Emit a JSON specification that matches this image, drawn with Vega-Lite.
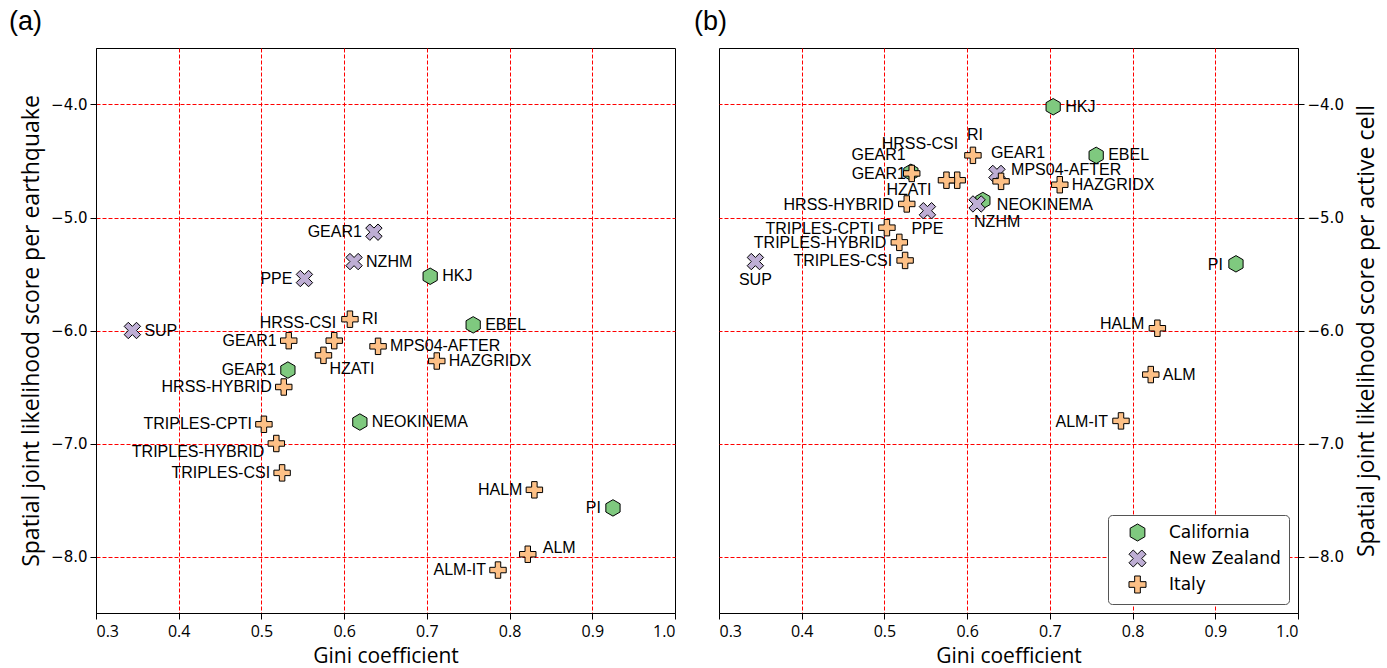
{
  "$schema": "https://vega.github.io/schema/vega-lite/v6.json",
  "padding": {"left": 8, "top": 7, "right": 5, "bottom": 0},
  "spacing": 44,
  "bounds": "flush",
  "datasets": {
    "scores": [
      {"model": "GEAR1", "region": "California", "gini": 0.532, "eq": -6.35, "cell": -4.60},
      {"model": "HKJ", "region": "California", "gini": 0.704, "eq": -5.52, "cell": -4.02},
      {"model": "EBEL", "region": "California", "gini": 0.756, "eq": -5.95, "cell": -4.45},
      {"model": "NEOKINEMA", "region": "California", "gini": 0.619, "eq": -6.81, "cell": -4.85},
      {"model": "PI", "region": "California", "gini": 0.925, "eq": -7.57, "cell": -5.41},
      {"model": "GEAR1", "region": "New Zealand", "gini": 0.636, "eq": -5.13, "cell": -4.61},
      {"model": "NZHM", "region": "New Zealand", "gini": 0.612, "eq": -5.39, "cell": -4.88},
      {"model": "PPE", "region": "New Zealand", "gini": 0.552, "eq": -5.54, "cell": -4.94},
      {"model": "SUP", "region": "New Zealand", "gini": 0.344, "eq": -6.00, "cell": -5.39},
      {"model": "GEAR1", "region": "Italy", "gini": 0.533, "eq": -6.09, "cell": -4.61},
      {"model": "HRSS-CSI", "region": "Italy", "gini": 0.588, "eq": -6.09, "cell": -4.67},
      {"model": "RI", "region": "Italy", "gini": 0.607, "eq": -5.90, "cell": -4.45},
      {"model": "HZATI", "region": "Italy", "gini": 0.575, "eq": -6.22, "cell": -4.67},
      {"model": "MPS04-AFTER", "region": "Italy", "gini": 0.641, "eq": -6.14, "cell": -4.68},
      {"model": "HAZGRIDX", "region": "Italy", "gini": 0.712, "eq": -6.27, "cell": -4.71},
      {"model": "HRSS-HYBRID", "region": "Italy", "gini": 0.527, "eq": -6.50, "cell": -4.88},
      {"model": "TRIPLES-CPTI", "region": "Italy", "gini": 0.503, "eq": -6.83, "cell": -5.09},
      {"model": "TRIPLES-HYBRID", "region": "Italy", "gini": 0.518, "eq": -7.00, "cell": -5.22},
      {"model": "TRIPLES-CSI", "region": "Italy", "gini": 0.525, "eq": -7.26, "cell": -5.38},
      {"model": "HALM", "region": "Italy", "gini": 0.830, "eq": -7.41, "cell": -5.98},
      {"model": "ALM", "region": "Italy", "gini": 0.822, "eq": -7.98, "cell": -6.39},
      {"model": "ALM-IT", "region": "Italy", "gini": 0.786, "eq": -8.12, "cell": -6.80}
    ]
  },
  "data": {"name": "scores"},
  "resolve": {"legend": {"color": "independent", "shape": "independent"}},
  "hconcat": [
    {
      "width": 579,
      "height": 565,
      "title": {"text": "(a)", "anchor": "start", "frame": "group", "dx": -87, "offset": -15, "baseline": "bottom", "fontSize": 27, "font": "Liberation Sans", "fontWeight": "normal", "color": "black"},
      "encoding": {
        "x": {"field": "gini", "type": "quantitative", "title": "Gini coefficient",
              "scale": {"domain": [0.3, 1.0], "nice": false, "zero": false},
              "axis": {"values": [0.3, 0.4, 0.5, 0.6, 0.7, 0.8, 0.9, 1.0], "format": ".1f",
                       "gridOpacity": {"condition": {"test": "datum.value < 0.301 || datum.value > 0.999", "value": 0}, "value": 1}}},
        "y": {"field": "eq", "type": "quantitative", "title": "Spatial joint likelihood score per earthquake",
              "scale": {"domain": [-8.5, -3.5], "nice": false, "zero": false},
              "axis": {"values": [-8, -7, -6, -5, -4], "format": ".1f", "orient": "left", "titlePadding": 7}}
      },
      "layer": [
        {
          "mark": {"type": "point", "filled": true, "stroke": "black", "strokeWidth": 1, "opacity": 1, "size": 270},
          "encoding": {
            "color": {"field": "region", "type": "nominal", "legend": null,
                      "scale": {"domain": ["California", "New Zealand", "Italy"], "range": ["#7fc97f", "#beaed4", "#fdc086"]}},
            "shape": {"field": "region", "type": "nominal", "legend": null,
                      "scale": {"domain": ["California", "New Zealand", "Italy"],
                                "range": ["M0,-1L0.866,-0.5L0.866,0.5L0,1L-0.866,0.5L-0.866,-0.5Z",
                                          "M0.5,-1L1,-0.5L0.5,0L1,0.5L0.5,1L0,0.5L-0.5,1L-1,0.5L-0.5,0L-1,-0.5L-0.5,-1L0,-0.5Z",
                                          "M-0.333,-1H0.333V-0.333H1V0.333H0.333V1H-0.333V0.333H-1V-0.333H-0.333Z"]}}
          }
        },
        {
          "transform": [{"filter": "indexof(['California:HKJ','California:EBEL','California:NEOKINEMA','New Zealand:NZHM','New Zealand:SUP','Italy:RI','Italy:MPS04-AFTER','Italy:HAZGRIDX'], datum.region + ':' + datum.model) >= 0"}],
          "mark": {"type": "text", "align": "left", "dx": 12, "dy": 0},
          "encoding": {"text": {"field": "model"}}
        },
        {
          "transform": [{"filter": "indexof(['California:GEAR1','California:PI','New Zealand:GEAR1','New Zealand:PPE','Italy:GEAR1','Italy:HRSS-HYBRID','Italy:TRIPLES-CPTI','Italy:TRIPLES-CSI','Italy:HALM','Italy:ALM-IT'], datum.region + ':' + datum.model) >= 0"}],
          "mark": {"type": "text", "align": "right", "dx": -12, "dy": 0},
          "encoding": {"text": {"field": "model"}}
        },
        {
          "transform": [{"filter": "datum.region == 'Italy' && datum.model == 'HRSS-CSI'"}],
          "mark": {"type": "text", "align": "right", "dx": 2, "dy": -18},
          "encoding": {"text": {"field": "model"}}
        },
        {
          "transform": [{"filter": "datum.region == 'Italy' && datum.model == 'HZATI'"}],
          "mark": {"type": "text", "align": "left", "dx": 6, "dy": 14},
          "encoding": {"text": {"field": "model"}}
        },
        {
          "transform": [{"filter": "datum.region == 'Italy' && datum.model == 'TRIPLES-HYBRID'"}],
          "mark": {"type": "text", "align": "right", "dx": -12, "dy": 8},
          "encoding": {"text": {"field": "model"}}
        },
        {
          "transform": [{"filter": "datum.region == 'Italy' && datum.model == 'ALM'"}],
          "mark": {"type": "text", "align": "left", "dx": 15, "dy": -6},
          "encoding": {"text": {"field": "model"}}
        }
      ]
    },
    {
      "width": 579,
      "height": 565,
      "title": {"text": "(b)", "anchor": "start", "frame": "group", "dx": -25, "offset": -15, "baseline": "bottom", "fontSize": 27, "font": "Liberation Sans", "fontWeight": "normal", "color": "black"},
      "encoding": {
        "x": {"field": "gini", "type": "quantitative", "title": "Gini coefficient",
              "scale": {"domain": [0.3, 1.0], "nice": false, "zero": false},
              "axis": {"values": [0.3, 0.4, 0.5, 0.6, 0.7, 0.8, 0.9, 1.0], "format": ".1f",
                       "gridOpacity": {"condition": {"test": "datum.value < 0.301 || datum.value > 0.999", "value": 0}, "value": 1}}},
        "y": {"field": "cell", "type": "quantitative", "title": "Spatial joint likelihood score per active cell",
              "scale": {"domain": [-8.5, -3.5], "nice": false, "zero": false},
              "axis": {"values": [-8, -7, -6, -5, -4], "format": ".1f", "orient": "right", "titleAngle": 270, "titleBaseline": "top", "titlePadding": 12}}
      },
      "layer": [
        {
          "mark": {"type": "point", "filled": true, "stroke": "black", "strokeWidth": 1, "opacity": 1, "size": 270},
          "encoding": {
            "color": {"field": "region", "type": "nominal",
                      "scale": {"domain": ["California", "New Zealand", "Italy"], "range": ["#7fc97f", "#beaed4", "#fdc086"]},
                      "legend": {"title": null, "orient": "bottom-right", "offset": 9, "padding": 8, "rowPadding": 3,
                                 "strokeColor": "#555555", "fillColor": "white", "cornerRadius": 4,
                                 "symbolSize": 290, "symbolStrokeColor": "black", "symbolStrokeWidth": 1, "symbolOpacity": 1,
                                 "symbolOffset": 12, "labelOffset": 22,
                                 "labelFont": "DejaVu Sans", "labelFontSize": 17, "labelColor": "black",
                                 "encode": {"symbols": {"update": {"stroke": {"value": "black"}, "strokeWidth": {"value": 1}, "opacity": {"value": 1}}}}}},
            "shape": {"field": "region", "type": "nominal",
                      "scale": {"domain": ["California", "New Zealand", "Italy"],
                                "range": ["M0,-1L0.866,-0.5L0.866,0.5L0,1L-0.866,0.5L-0.866,-0.5Z",
                                          "M0.5,-1L1,-0.5L0.5,0L1,0.5L0.5,1L0,0.5L-0.5,1L-1,0.5L-0.5,0L-1,-0.5L-0.5,-1L0,-0.5Z",
                                          "M-0.333,-1H0.333V-0.333H1V0.333H0.333V1H-0.333V0.333H-1V-0.333H-0.333Z"]},
                      "legend": {"title": null, "orient": "bottom-right", "offset": 9, "padding": 8, "rowPadding": 3,
                                 "strokeColor": "#555555", "fillColor": "white", "cornerRadius": 4,
                                 "symbolSize": 290, "symbolStrokeColor": "black", "symbolStrokeWidth": 1, "symbolOpacity": 1,
                                 "symbolOffset": 12, "labelOffset": 22,
                                 "labelFont": "DejaVu Sans", "labelFontSize": 17, "labelColor": "black",
                                 "encode": {"symbols": {"update": {"stroke": {"value": "black"}, "strokeWidth": {"value": 1}, "opacity": {"value": 1}}}}}}
          }
        },
        {
          "transform": [{"filter": "indexof(['California:HKJ','California:EBEL','Italy:HAZGRIDX','Italy:ALM'], datum.region + ':' + datum.model) >= 0"}],
          "mark": {"type": "text", "align": "left", "dx": 12, "dy": 0},
          "encoding": {"text": {"field": "model"}}
        },
        {
          "transform": [{"filter": "indexof(['California:PI','Italy:HRSS-HYBRID','Italy:TRIPLES-CPTI','Italy:TRIPLES-HYBRID','Italy:TRIPLES-CSI','Italy:ALM-IT'], datum.region + ':' + datum.model) >= 0"}],
          "mark": {"type": "text", "align": "right", "dx": -13, "dy": 1},
          "encoding": {"text": {"field": "model"}}
        },
        {
          "transform": [{"filter": "datum.region == 'Italy' && datum.model == 'HALM'"}],
          "mark": {"type": "text", "align": "right", "dx": -13, "dy": -4},
          "encoding": {"text": {"field": "model"}}
        },
        {
          "transform": [{"filter": "datum.region == 'Italy' && datum.model == 'HRSS-CSI'"}],
          "mark": {"type": "text", "align": "right", "dx": 1, "dy": -36},
          "encoding": {"text": {"field": "model"}}
        },
        {
          "transform": [{"filter": "(datum.region == 'Italy' && datum.model == 'RI') || (datum.region == 'New Zealand' && datum.model == 'GEAR1')"}],
          "mark": {"type": "text", "align": "left", "dx": -6, "dy": -20},
          "encoding": {"text": {"field": "model"}}
        },
        {
          "transform": [{"filter": "datum.region == 'Italy' && datum.model == 'GEAR1'"}],
          "mark": {"type": "text", "align": "right", "dx": -6, "dy": -18},
          "encoding": {"text": {"field": "model"}}
        },
        {
          "transform": [{"filter": "datum.region == 'California' && datum.model == 'GEAR1'"}],
          "mark": {"type": "text", "align": "right", "dx": -5, "dy": 2},
          "encoding": {"text": {"field": "model"}}
        },
        {
          "transform": [{"filter": "datum.region == 'Italy' && datum.model == 'HZATI'"}],
          "mark": {"type": "text", "align": "right", "dx": -15, "dy": 10},
          "encoding": {"text": {"field": "model"}}
        },
        {
          "transform": [{"filter": "datum.region == 'Italy' && datum.model == 'MPS04-AFTER'"}],
          "mark": {"type": "text", "align": "left", "dx": 10, "dy": -11},
          "encoding": {"text": {"field": "model"}}
        },
        {
          "transform": [{"filter": "datum.region == 'California' && datum.model == 'NEOKINEMA'"}],
          "mark": {"type": "text", "align": "left", "dx": 14, "dy": 4},
          "encoding": {"text": {"field": "model"}}
        },
        {
          "transform": [{"filter": "datum.region == 'New Zealand' && datum.model == 'NZHM'"}],
          "mark": {"type": "text", "align": "left", "dx": -3, "dy": 18},
          "encoding": {"text": {"field": "model"}}
        },
        {
          "transform": [{"filter": "datum.region == 'New Zealand' && (datum.model == 'PPE' || datum.model == 'SUP')"}],
          "mark": {"type": "text", "align": "center", "dx": 0, "dy": 18},
          "encoding": {"text": {"field": "model"}}
        }
      ]
    }
  ],
  "config": {
    "background": "white",
    "view": {"stroke": "black", "strokeWidth": 1},
    "text": {"font": "Liberation Sans", "fontSize": 16, "baseline": "middle", "color": "black"},
    "axis": {
      "domainColor": "black", "tickColor": "black", "labelColor": "black", "titleColor": "black",
      "gridColor": "#ff0000", "gridDash": [4, 2], "gridWidth": 1,
      "tickSize": 6, "labelPadding": 3,
      "titleFont": "Open Sans", "titleFontSize": 21, "titleFontWeight": "normal"
    },
    "axisX": {"labelFont": "Open Sans", "labelFontSize": 16, "labelPadding": 4, "titlePadding": 6},
    "axisY": {"labelFont": "DejaVu Sans", "labelFontSize": 15, "titleFontSize": 23}
  }
}
